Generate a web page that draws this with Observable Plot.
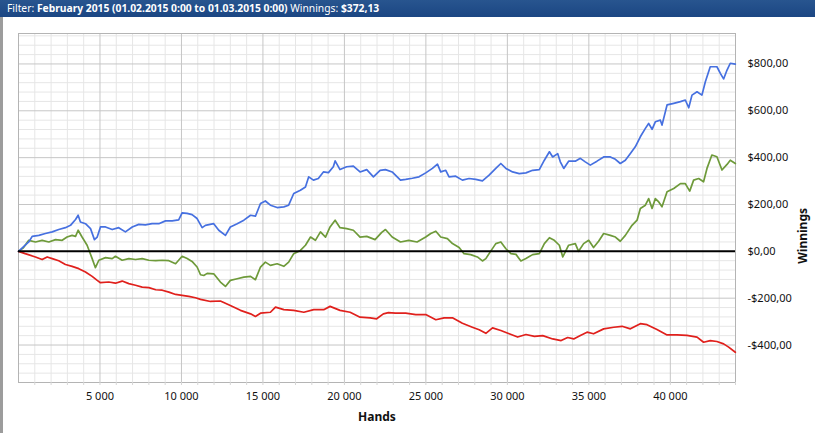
<!DOCTYPE html>
<html>
<head>
<meta charset="utf-8">
<script src="https://cdn.jsdelivr.net/npm/d3@7"></script>
<script src="https://cdn.jsdelivr.net/npm/@observablehq/plot@0.6"></script>
<style>
  html, body { margin: 0; padding: 0; background: #fff; }
  body { width: 815px; height: 433px; overflow: hidden; position: relative; font-family: "Noto Sans", sans-serif; }
  #hdr { height: 17px; background: linear-gradient(#28558f, #1b4683); color: #fff; font-size: 11px; line-height: 17px; padding-left: 7px; white-space: nowrap; overflow: hidden; }
  #bar { position: absolute; left: 0; top: 17px; width: 3px; height: 416px; background: #9c9c9c; }
</style>
</head>
<body>
<div id="hdr"><span id="hdrText">Filter: <b>February 2015 (01.02.2015 0:00 to 01.03.2015 0:00)</b> Winnings: <b>$372,13</b></span></div>
<div id="chart"></div>
<div id="bar"></div>
<script>
// ---- data ----
const blueHands = [0,630,840,1250,1650,2070,2470,2880,3190,3500,3660,3800,4110,4420,4660,4830,5030,5340,5750,6150,6560,6980,7380,7790,8200,8610,9020,9430,9830,10040,10350,10650,10960,11270,11470,11980,12290,12700,13000,13420,13830,14240,14540,14850,15150,15460,15870,16280,16580,16890,17300,17610,17810,18100,18400,18710,19020,19320,19430,19730,20140,20550,20960,21370,21780,22190,22520,22930,23440,23760,24170,24580,24990,25400,25710,25910,26220,26420,26830,27240,27650,28060,28470,28880,29290,29600,29910,30320,30730,31140,31550,31960,32270,32580,32780,33090,33250,33460,33760,34170,34480,34780,35090,35500,35910,36320,36630,36930,37240,37550,37850,38160,38470,38670,38880,39080,39390,39490,39800,40210,40620,40920,41130,41330,41640,41940,42150,42450,42860,43070,43270,43480,43680,43990];
const blueValues = [0,40,64,68,76,83,93,101,111,136,154,125,118,97,50,61,104,104,93,101,83,104,115,113,118,118,130,130,134,164,162,157,140,101,111,118,90,68,104,118,133,154,150,204,215,197,187,190,197,247,261,275,318,304,311,339,336,361,386,349,361,364,339,349,318,346,349,339,304,307,312,318,335,354,372,339,346,318,321,304,311,307,301,325,354,375,354,339,332,335,346,349,389,425,403,417,382,354,385,385,397,382,368,385,403,403,393,375,389,418,446,489,525,546,521,553,560,539,625,632,639,646,613,667,681,667,724,788,788,760,736,774,803,799];

const greenHands = [0,300,630,1040,1450,1860,2270,2680,2980,3290,3500,3660,3900,4210,4520,4720,4930,5340,5750,5950,6360,6770,7180,7590,8000,8420,8820,9230,9640,10040,10350,10650,10960,11170,11370,11580,11980,12390,12700,13000,13420,13830,14240,14540,14850,15150,15460,15870,16280,16580,16890,17300,17610,17920,18220,18530,18840,19120,19430,19730,20140,20550,20960,21370,21880,22290,22520,22930,23440,23950,24460,24990,25300,25610,25910,26320,26630,27040,27340,27750,28160,28470,28680,28980,29290,29600,29910,30220,30530,30830,31140,31550,31960,32270,32580,32880,33190,33400,33760,34170,34370,34680,34990,35290,35600,35910,36320,36630,36930,37240,37650,37960,38160,38470,38670,38880,39080,39290,39490,39800,40210,40620,40920,41190,41430,41740,42040,42250,42550,42860,43170,43480,43680,43990];
const greenValues = [0,15,47,40,47,40,50,47,61,68,64,90,61,26,-31,-70,-38,-27,-31,-21,-38,-31,-35,-31,-38,-40,-38,-40,-53,-21,-31,-43,-67,-100,-103,-94,-96,-131,-150,-124,-117,-110,-107,-121,-67,-46,-60,-53,-64,-46,-10,4,26,61,47,83,61,104,133,101,97,90,61,64,50,81,93,61,40,47,40,61,76,86,61,54,33,16,-10,-14,-24,-41,-31,1,33,40,11,-10,-13,-41,-31,-14,-10,33,58,47,26,-24,26,33,0,33,47,16,43,76,68,61,43,68,111,133,183,197,225,183,225,211,190,254,268,289,289,257,304,311,297,354,411,404,347,371,389,375];

const redHands = [0,410,1040,1450,1760,2070,2470,2880,3290,3700,4110,4520,4830,5030,5540,5950,6360,6770,7180,7590,8000,8420,8820,9230,9640,10040,10450,10860,11170,11780,12390,13000,13620,14240,14540,14850,15460,15770,16280,16890,17510,18120,18730,19120,19730,20350,20960,21580,21980,22390,22700,23130,23760,24380,24990,25610,26120,26630,27240,27850,28270,28680,29090,29600,30110,30630,31140,31660,32170,32780,33300,33700,34070,34480,34890,35290,35910,36530,37040,37550,38160,38570,39180,39800,40410,41020,41640,42040,42450,42860,43270,43580,43990];
const redValues = [0,-10,-24,-35,-24,-31,-40,-56,-64,-74,-88,-107,-124,-134,-131,-136,-127,-138,-145,-153,-155,-164,-166,-174,-184,-188,-192,-198,-205,-214,-212,-231,-252,-267,-278,-264,-260,-238,-249,-252,-260,-249,-249,-235,-252,-260,-281,-284,-288,-267,-262,-264,-264,-270,-270,-292,-284,-284,-307,-324,-335,-350,-327,-338,-352,-366,-355,-363,-360,-374,-381,-368,-374,-359,-345,-352,-331,-324,-320,-331,-309,-313,-334,-357,-357,-359,-366,-388,-381,-385,-395,-409,-431];

const xTickValues = [5000, 10000, 15000, 20000, 25000, 30000, 35000, 40000];
const yTickValues = [-400, -200, 0, 200, 400, 600, 800];
const xDomain = [0, 44000];
const yDomain = [-560, 930];

// ---- build ----
const toRows = (hs, vs) => hs.map((h, i) => ({h, v: vs[i]}));
const blue = toRows(blueHands, blueValues);
const green = toRows(greenHands, greenValues);
const red = toRows(redHands, redValues);

const loc = d3.formatLocale({decimal: ",", thousands: " ", grouping: [3], currency: ["$", ""], minus: "-"});
const yFmt = loc.format("$,.2f");
const xFmt = loc.format(",d");

const xMinor = d3.range(1000, 44001, 1000).filter(d => d % 5000 !== 0);
const xMajor = d3.range(5000, 44001, 5000);
const yMinor = d3.range(-560, 931, 40).filter(d => d % 200 !== 0);
const yMajor = d3.range(-400, 931, 200).filter(d => d !== 0);

const chart = Plot.plot({
  width: 815,
  height: 416,
  marginLeft: 18,
  marginRight: 80,
  marginTop: 16,
  marginBottom: 51,
  style: {fontFamily: "'Noto Sans', sans-serif", fontSize: "11px", color: "#111", background: "#fff"},
  x: {domain: xDomain},
  y: {domain: yDomain},
  marks: [
    Plot.gridX(xMinor, {stroke: "#e6e6e6", strokeOpacity: 1}),
    Plot.gridY(yMinor, {stroke: "#e6e6e6", strokeOpacity: 1}),
    Plot.gridX(xMajor, {stroke: "#c6c6c6", strokeOpacity: 1}),
    Plot.gridY(yMajor, {stroke: "#c6c6c6", strokeOpacity: 1}),
    Plot.frame({stroke: "#b4b4b4"}),
    Plot.line(red, {x: "h", y: "v", stroke: "#e0201c", strokeWidth: 1.7}),
    Plot.line(green, {x: "h", y: "v", stroke: "#6e9a3a", strokeWidth: 1.7}),
    Plot.line(blue, {x: "h", y: "v", stroke: "#4670e0", strokeWidth: 1.7}),
    Plot.ruleY([0], {stroke: "#000", strokeWidth: 2}),
    Plot.axisX(xMinor.concat(xMajor), {tickSize: 3, tickFormat: () => "", stroke: "#d6d6d6", label: null}),
    Plot.axisX(xTickValues, {tickSize: 0, tickPadding: 10, tickFormat: xFmt, label: null}),
    Plot.axisY(yTickValues, {anchor: "right", tickSize: 0, tickPadding: 12, tickFormat: yFmt, textAnchor: "start", label: null}),
    Plot.text(["Hands"], {frameAnchor: "bottom", dy: 38, fontWeight: "bold", fontSize: 12}),
    Plot.text(["Winnings"], {frameAnchor: "right", dx: 68, rotate: -90, fontWeight: "bold", fontSize: 12})
  ]
});
document.getElementById("chart").appendChild(chart);

// fit header text to the reference span (x 7 → 380)
const ht = document.getElementById("hdrText");
const w = ht.getBoundingClientRect().width;
const fs = Math.max(8, Math.min(13, 11 * 373 / w));
document.getElementById("hdr").style.fontSize = fs + "px";
</script>
</body>
</html>
